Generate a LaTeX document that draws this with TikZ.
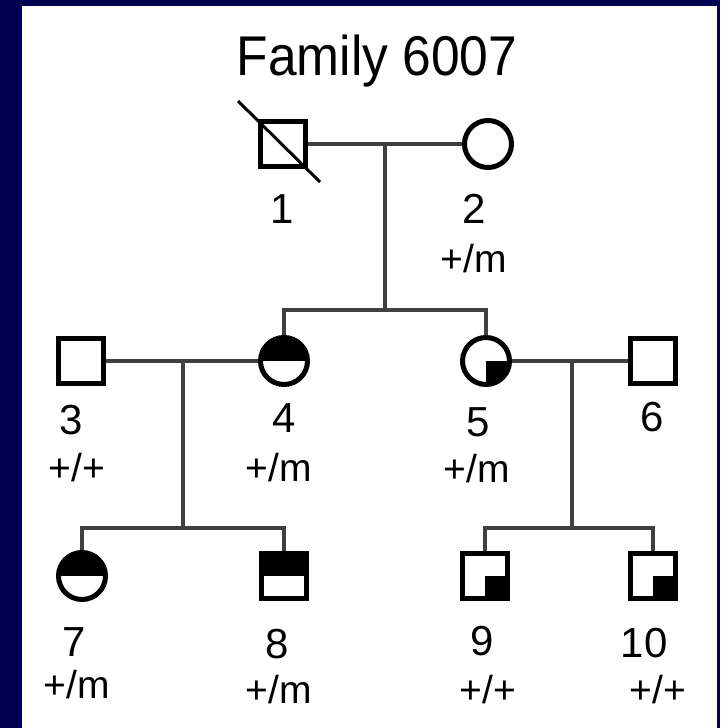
\documentclass[tikz,border=0pt]{standalone}
\usepackage{fontspec}
\setmainfont{Liberation Sans}
\usetikzlibrary{calc}
\definecolor{navy}{RGB}{2,0,80}
\begin{document}
\begin{tikzpicture}[x=1pt,y=-1pt,
  conn/.style={line width=3.2pt, draw=black!75},
  male/.style={draw, line width=5pt, rectangle, minimum size=45pt, inner sep=0pt, fill=white},
  female/.style={draw, line width=5pt, circle, minimum size=47pt, inner sep=0pt, fill=white},
  tophalf/.style={path picture={\fill[black] (path picture bounding box.west) rectangle (path picture bounding box.north east);}},
  quadrant/.style={path picture={\fill[black] (path picture bounding box.center) rectangle (path picture bounding box.south east);}},
  num/.style={font=\fontsize{42}{42}\selectfont, anchor=base, inner sep=0pt},
  geno/.style={font=\fontsize{39}{39}\selectfont, anchor=base, inner sep=0pt}]
\useasboundingbox (0,0) rectangle (720,728);
\fill[navy] (0,0) rectangle (720,728);
\fill[white] (22,6) rectangle (717,728);

\node[font=\fontsize{56}{56}\selectfont, anchor=base, inner sep=0pt] (title) at (377,75) {\scalebox{0.92}[1]{Family 6007}};

% generation I
\node[male] (n1) at (283,144) {};
\node[female] (n2) at (488,144) {};
% generation II
\node[male] (n3) at (81,361) {};
\node[female, tophalf] (n4) at (284,361) {};
\node[female, quadrant] (n5) at (486,361) {};
\node[male] (n6) at (653,361) {};
% generation III
\node[female, tophalf] (n7) at (82,576) {};
\node[male, tophalf] (n8) at (284,576) {};
\node[male, quadrant] (n9) at (485,576) {};
\node[male, quadrant] (n10) at (653,576) {};

% deceased mark
\draw[line width=3pt] ($(n1)+(-45,-43)$) -- ($(n1)+(37,38)$);

% connectors
\coordinate (m12) at (385,144);
\coordinate (s12) at (385,310);
\draw[conn] (n1.east) -- (n2.west);
\draw[conn] (m12) -- (s12);
\draw[conn] (n4.north) |- (s12) -| (n5.north);

\coordinate (m34) at (183,361);
\coordinate (s34) at (183,528);
\draw[conn] (n3.east) -- (n4.west);
\draw[conn] (m34) -- (s34);
\draw[conn] (n7.north) |- (s34) -| (n8.north);

\coordinate (m56) at (572,361);
\coordinate (s56) at (572,528);
\draw[conn] (n5.east) -- (n6.west);
\draw[conn] (m56) -- (s56);
\draw[conn] (n9.north) |- (s56) -| (n10.north);

% labels
\node[num] (l1) at (282,223) {1};
\node[num] (l2) at (474,223) {2};
\node[geno] (g2) at (474,272) {+/m};
\node[num] (l3) at (71,434) {3};
\node[geno] (g3) at (77,481) {+/+};
\node[num] (l4) at (284,432) {4};
\node[geno] (g4) at (279,481) {+/m};
\node[num] (l5) at (478,436) {5};
\node[geno] (g5) at (477,482) {+/m};
\node[num] (l6) at (652,431) {6};
\node[num] (l7) at (74,656) {7};
\node[geno] (g7) at (77,698) {+/m};
\node[num] (l8) at (277,658) {8};
\node[geno] (g8) at (279,703) {+/m};
\node[num] (l9) at (482,655) {9};
\node[geno] (g9) at (488,703) {+/+};
\node[num] (l10) at (644,657) {10};
\node[geno] (g10) at (658,703) {+/+};
\end{tikzpicture}
\end{document}
